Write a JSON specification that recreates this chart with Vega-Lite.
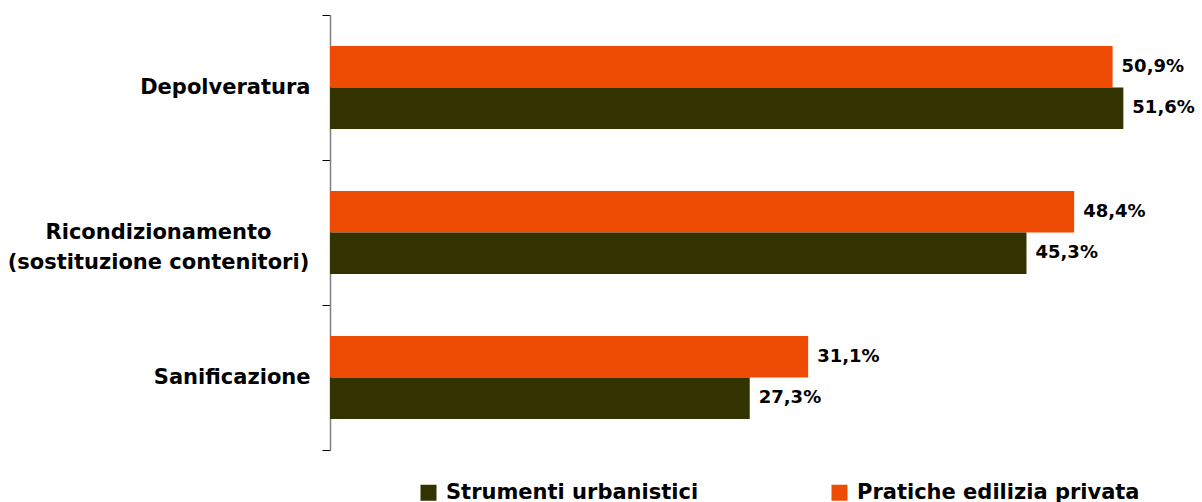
{
  "$schema": "https://vega.github.io/schema/vega-lite/v6.json",
  "width": 861,
  "height": 435,
  "autosize": {"type": "none"},
  "padding": {"left": 330, "top": 15, "right": 11, "bottom": 52},
  "config": {
    "locale": {"number": {"decimal": ",", "thousands": ".", "grouping": [3], "currency": ["", " €"]}},
    "view": {"stroke": null},
    "font": "DejaVu Sans"
  },
  "data": {
    "values": [
      {"categoria": "Depolveratura", "serie": "Pratiche edilizia privata", "valore": 0.509},
      {"categoria": "Depolveratura", "serie": "Strumenti urbanistici", "valore": 0.516},
      {"categoria": "Ricondizionamento (sostituzione contenitori)", "serie": "Pratiche edilizia privata", "valore": 0.484},
      {"categoria": "Ricondizionamento (sostituzione contenitori)", "serie": "Strumenti urbanistici", "valore": 0.453},
      {"categoria": "Sanificazione", "serie": "Pratiche edilizia privata", "valore": 0.311},
      {"categoria": "Sanificazione", "serie": "Strumenti urbanistici", "valore": 0.273}
    ]
  },
  "encoding": {
    "y": {
      "field": "categoria",
      "type": "nominal",
      "sort": ["Depolveratura", "Ricondizionamento (sostituzione contenitori)", "Sanificazione"],
      "scale": {"paddingInner": 0, "paddingOuter": 0},
      "axis": {
        "title": null,
        "tickBand": "extent",
        "tickSize": 8,
        "tickColor": "black",
        "tickWidth": 1,
        "domainColor": "#808080",
        "domainWidth": 1.5,
        "labelFont": "DejaVu Sans",
        "labelFontSize": 21,
        "labelFontWeight": "bold",
        "labelColor": "black",
        "labelAlign": {"condition": {"test": "datum.value == 'Ricondizionamento (sostituzione contenitori)'", "value": "center"}, "value": "right"},
        "labelPadding": {"condition": {"test": "datum.value == 'Ricondizionamento (sostituzione contenitori)'", "value": 164}, "value": 12},
        "labelLineHeight": 30,
        "labelLimit": 400,
        "labelExpr": "datum.value == 'Ricondizionamento (sostituzione contenitori)' ? ['Ricondizionamento', '(sostituzione contenitori)'] : datum.label"
      }
    },
    "yOffset": {
      "field": "serie",
      "type": "nominal",
      "sort": ["Pratiche edilizia privata", "Strumenti urbanistici"],
      "scale": {"paddingInner": 0, "paddingOuter": 0.747}
    },
    "x": {
      "field": "valore",
      "type": "quantitative",
      "scale": {"domain": [0, 0.56], "nice": false},
      "axis": null
    }
  },
  "layer": [
    {
      "mark": {"type": "bar"},
      "encoding": {
        "color": {
          "field": "serie",
          "type": "nominal",
          "scale": {"domain": ["Strumenti urbanistici", "Pratiche edilizia privata"], "range": ["#333300", "#EE4B04"]},
          "legend": {
            "title": null,
            "orient": "none",
            "direction": "horizontal",
            "legendX": 88,
            "legendY": 467,
            "padding": 0,
            "symbolType": "square",
            "symbolSize": 256,
            "symbolStrokeWidth": 0,
            "symbolOpacity": 1,
            "labelFont": "DejaVu Sans",
            "labelFontSize": 21,
            "labelFontWeight": "bold",
            "labelColor": "black",
            "labelOffset": 7,
            "labelLimit": 400,
            "columnPadding": 130
          }
        }
      }
    },
    {
      "mark": {"type": "text", "align": "left", "baseline": "middle", "dx": 9, "font": "DejaVu Sans", "fontSize": 18, "fontWeight": "bold", "color": "black"},
      "encoding": {
        "text": {"field": "valore", "type": "quantitative", "format": ".1%"}
      }
    }
  ]
}
